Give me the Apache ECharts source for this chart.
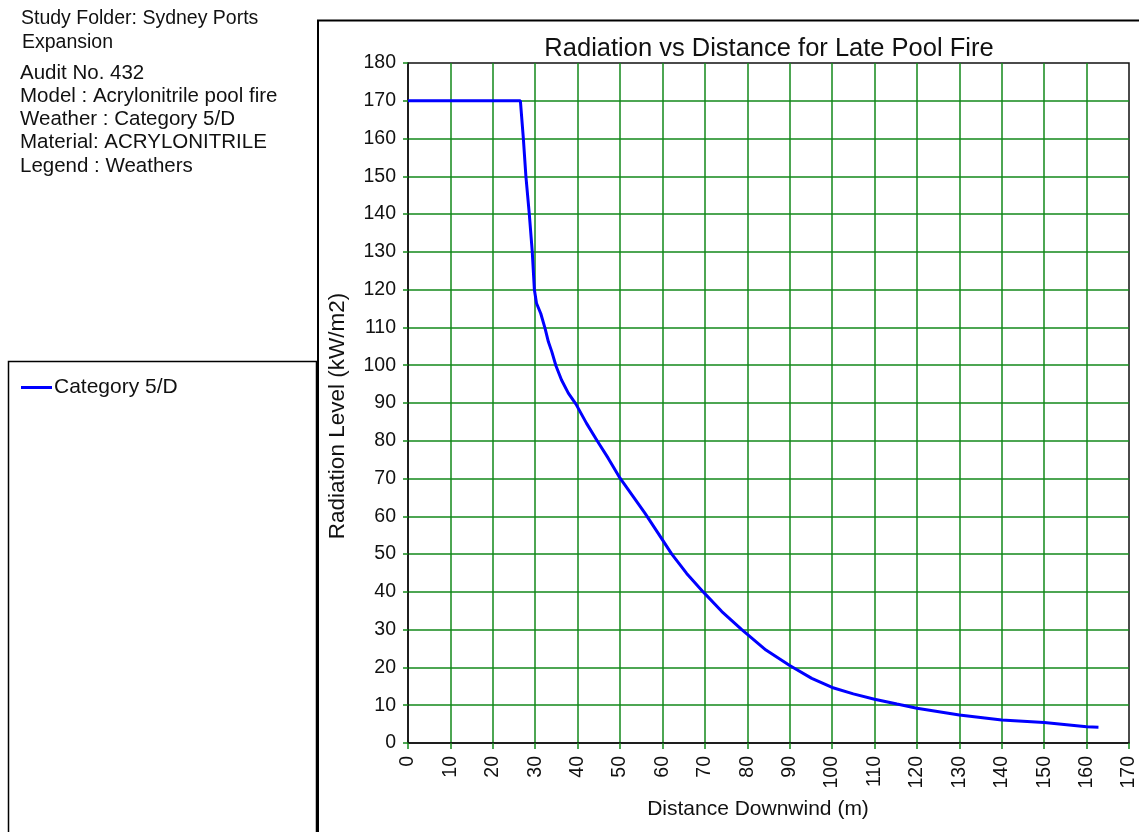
<!DOCTYPE html>
<html>
<head>
<meta charset="utf-8">
<script src="https://cdn.jsdelivr.net/npm/echarts@6/dist/echarts.min.js"></script>
<style>
  html, body { margin: 0; padding: 0; background: #ffffff; }
  #chart { width: 1139px; height: 832px; }
</style>
</head>
<body>
<div id="chart"></div>
<script>
// Radiation level along the downwind distance for the late pool fire case
const seriesName = 'Category 5/D';
const distance = [0, 26.5, 27.2, 27.8, 28.6, 29.3, 29.8, 30.3, 31.3, 32.3, 33.1, 33.9, 34.9, 36.2, 37.8, 39.6, 42.1, 44.6, 47.2, 50.0, 53.1, 55.9, 59.0, 62.2, 65.7, 69.6, 74.0, 78.7, 84.4, 90.0, 95.2, 100.0, 105.0, 110.0, 115.3, 120.0, 130.0, 140.0, 150.0, 160.0, 162.8];
const radiation = [170, 170, 160, 150, 140, 130, 120, 116.4, 113.7, 109.8, 106.2, 103.6, 99.8, 96.1, 92.6, 89.7, 84.6, 80.0, 75.4, 70.1, 65.2, 60.8, 55.5, 50.0, 44.9, 40.0, 34.8, 30.0, 24.6, 20.5, 17.1, 14.7, 13.0, 11.6, 10.3, 9.2, 7.4, 6.1, 5.4, 4.3, 4.2];

const xTicks = { min: 0, max: 170, step: 10 };
const yTicks = { min: 0, max: 180, step: 10 };

const infoLines = [
  'Study Folder: Sydney Ports',
  'Expansion',
  'Audit No. 432',
  'Model : Acrylonitrile pool fire',
  'Weather : Category 5/D',
  'Material: ACRYLONITRILE',
  'Legend : Weathers'
];
const infoY = [19, 43, 73, 96, 119.5, 142.5, 166];
const infoX = [21, 22, 20, 20, 20, 20, 20];
const infoSize = [19.5, 19.5, 20.5, 20.5, 20.5, 20.5, 20.5];

const chartTitle = 'Radiation vs Distance for Late Pool Fire';
const xName = 'Distance Downwind (m)';
const yName = 'Radiation Level (kW/m2)';

const FONT = '"Liberation Sans", Arial, sans-serif';
const GRID_GREEN = '#13891a';

const chart = echarts.init(document.getElementById('chart'), null, { renderer: 'canvas' });

const graphics = [
  // chart panel frame
  {
    type: 'polyline', silent: true, z: 0,
    shape: { points: [[318, 832], [318, 20.5], [1139, 20.5]] },
    style: { stroke: '#000', lineWidth: 2, fill: null }
  },
  // legend panel frame
  {
    type: 'rect', silent: true, z: 0,
    shape: { x: 8.5, y: 361.5, width: 308, height: 480 },
    style: { stroke: '#000', lineWidth: 1.5, fill: '#fff' }
  },
  {
    type: 'text', silent: true,
    x: 769, y: 49,
    style: { text: chartTitle, font: '25.5px ' + FONT, fill: '#111', align: 'center', verticalAlign: 'middle' }
  }
];
infoLines.forEach((t, i) => {
  graphics.push({
    type: 'text', silent: true,
    x: infoX[i], y: infoY[i],
    style: { text: t, font: infoSize[i] + 'px ' + FONT, fill: '#111', align: 'left', verticalAlign: 'middle' }
  });
});

chart.setOption({
  animation: false,
  backgroundColor: '#ffffff',
  textStyle: { fontFamily: FONT },
  grid: {
    left: 408, top: 63, right: 10, bottom: 89,
    show: true, borderColor: '#111', borderWidth: 1.5, backgroundColor: 'transparent'
  },
  legend: {
    show: true,
    left: 21, top: 377,
    padding: 0,
    itemWidth: 31, itemHeight: 3,
    itemGap: 10,
    data: [{ name: seriesName, icon: 'rect' }],
    textStyle: { fontSize: 21, color: '#111', fontFamily: FONT, padding: [0, 0, 0, -3] }
  },
  xAxis: {
    type: 'value',
    min: xTicks.min, max: xTicks.max, interval: xTicks.step,
    name: xName, nameLocation: 'middle', nameGap: 56,
    nameTextStyle: { fontSize: 21, color: '#111', fontFamily: FONT, padding: [0, 21, 0, 0] },
    axisLine: { show: true, onZero: false, lineStyle: { color: '#111', width: 1.5 } },
    axisTick: { show: true, length: 6, lineStyle: { color: GRID_GREEN, width: 1.5 } },
    axisLabel: { rotate: 90, margin: 13, fontSize: 19.5, color: '#111', fontFamily: FONT, showMaxLabel: true, showMinLabel: true },
    splitLine: { show: true, showMinLine: false, showMaxLine: false, lineStyle: { color: GRID_GREEN, width: 1.5 } }
  },
  yAxis: {
    type: 'value',
    min: yTicks.min, max: yTicks.max, interval: yTicks.step,
    name: yName, nameLocation: 'middle', nameGap: 59, nameRotate: 90,
    nameTextStyle: { fontSize: 22.5, color: '#111', fontFamily: FONT, padding: [0, 26, 0, 0] },
    axisLine: { show: true, onZero: false, lineStyle: { color: '#111', width: 1.5 } },
    axisTick: { show: true, length: 5, lineStyle: { color: GRID_GREEN, width: 1.5 } },
    axisLabel: { margin: 12, fontSize: 19.5, color: '#111', fontFamily: FONT, showMaxLabel: true, showMinLabel: true },
    splitLine: { show: true, showMinLine: false, showMaxLine: false, lineStyle: { color: GRID_GREEN, width: 1.5 } }
  },
  graphic: graphics,
  series: [{
    name: seriesName,
    type: 'line',
    data: distance.map((d, i) => [d, radiation[i]]),
    showSymbol: false,
    symbol: 'none',
    smooth: false,
    lineStyle: { color: '#0000ff', width: 3 },
    itemStyle: { color: '#0000ff' },
    z: 3
  }]
});
</script>
</body>
</html>
